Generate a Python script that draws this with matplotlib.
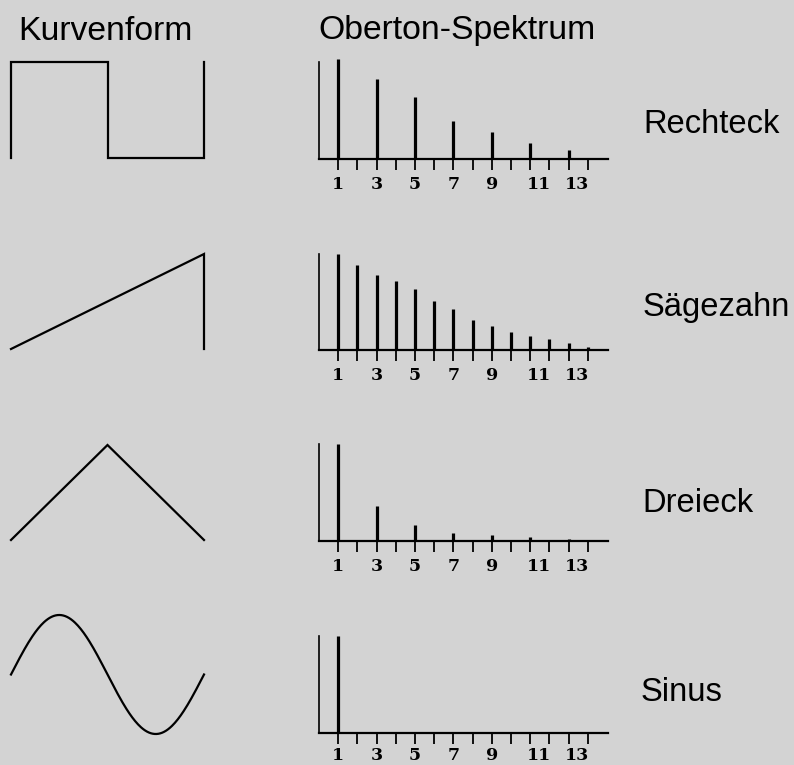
#!/usr/bin/env python3
# -*- coding: utf-8 -*-

import numpy as np
import matplotlib
matplotlib.use("Agg")
import matplotlib.pyplot as plt
import matplotlib.transforms as mtransforms

# data
names = ["Rechteck", "Sägezahn", "Dreieck", "Sinus"]
harmonics = list(range(1, 15))
tick_labels = ["1", "", "3", "", "5", "", "7", "", "9", "", "11", "", "13", ""]

rechteck_amp = [1.0, 0, 0.80, 0, 0.62, 0, 0.38, 0, 0.27, 0, 0.16, 0, 0.09, 0]
saege_amp = [1.0, 0.885, 0.785, 0.715, 0.632, 0.514, 0.43, 0.316, 0.25,
             0.19, 0.15, 0.118, 0.07, 0.03]
dreieck_amp = [1.0, 0, 0.36, 0, 0.16, 0, 0.076, 0, 0.055, 0, 0.04, 0, 0.02, 0]
sinus_amp = [1.0, 0, 0, 0, 0, 0, 0, 0, 0, 0, 0, 0, 0, 0]
spectra = [rechteck_amp, saege_amp, dreieck_amp, sinus_amp]

# waveform vertices over one period (phase, level)
square_x = [0, 0, 0.5, 0.5, 1, 1]
square_y = [-1, 1, 1, -1, -1, 1]
saw_x = [0, 1, 1]
saw_y = [-1, 1, -1]
tri_x = [0, 0.5, 1]
tri_y = [-1, 1, -1]
sine_x = np.linspace(0, 1, 200)
sine_y = np.sin(2 * np.pi * sine_x)
waves = [(square_x, square_y), (saw_x, saw_y), (tri_x, tri_y), (sine_x, sine_y)]

W, H = 794, 765
BG = "#d3d3d3"


def box(x0, ytop, x1, ybot):
    return [x0 / W, 1 - ybot / H, (x1 - x0) / W, (ybot - ytop) / H]


fig = plt.figure(figsize=(W / 100, H / 100), dpi=100, facecolor=BG)

sans = "Liberation Sans"
fs = 23.6
fig.text(18 / W, 1 - 40 / H, "Kurvenform", fontsize=24.3, family=sans,
         va="baseline", ha="left")
fig.text(318 / W, 1 - 39 / H, "Oberton-Spektrum", fontsize=24.3, family=sans,
         va="baseline", ha="left")

# pixel layout per row
wave_rows = [(62, 157.5), (254, 349), (445, 540), (615, 734)]
spec_rows = [(59.3, 159), (254, 350), (444, 540.7), (636, 732.7)]
axis_top = [0.97, 1.0, 1.0, 1.0]
label_gap = [25.5, 25.5, 25.5, 23.0]
name_pos = [(643, 133), (643, 316), (642, 511.5), (641, 701)]

for i in range(4):
    # waveform
    top, bot = wave_rows[i]
    axw = fig.add_axes(box(11, top, 204, bot))
    axw.set_axis_off()
    wx, wy = waves[i]
    axw.plot(wx, wy, color="black", lw=1.6, clip_on=False,
             solid_joinstyle="miter")
    axw.set_xlim(0, 1)
    axw.set_ylim(-1, 1)

    # spectrum
    top, bot = spec_rows[i]
    ax = fig.add_axes(box(319, top, 608, bot))
    ax.set_facecolor("none")
    ax.vlines(harmonics, 0, spectra[i], color="black", lw=2.3)
    ax.set_xlim(0, 15.05)
    ax.set_ylim(0, 1)
    for s in ["top", "right"]:
        ax.spines[s].set_visible(False)
    ax.spines["left"].set_linewidth(1.2)
    ax.spines["left"].set_bounds(0, axis_top[i])
    ax.spines["bottom"].set_linewidth(1.6)
    ax.set_yticks([])
    ax.set_xticks(harmonics)
    ax.set_xticklabels([])
    ax.tick_params(axis="x", direction="out", length=8, width=1.3)
    trans = mtransforms.blended_transform_factory(
        ax.transData, ax.transAxes)
    off = -label_gap[i] / (bot - top)
    for n, lab in zip(harmonics, tick_labels):
        if not lab:
            continue
        xx = n if len(lab) == 1 else n + 0.45
        ax.text(xx, off, lab, transform=trans, ha="center", va="center",
                family="DejaVu Serif", weight="bold", fontsize=12.5)

    nx, ny = name_pos[i]
    fig.text(nx / W, 1 - ny / H, names[i], fontsize=fs, family=sans,
             va="baseline", ha="left")

fig.savefig("out.png", dpi=100, facecolor=BG)
